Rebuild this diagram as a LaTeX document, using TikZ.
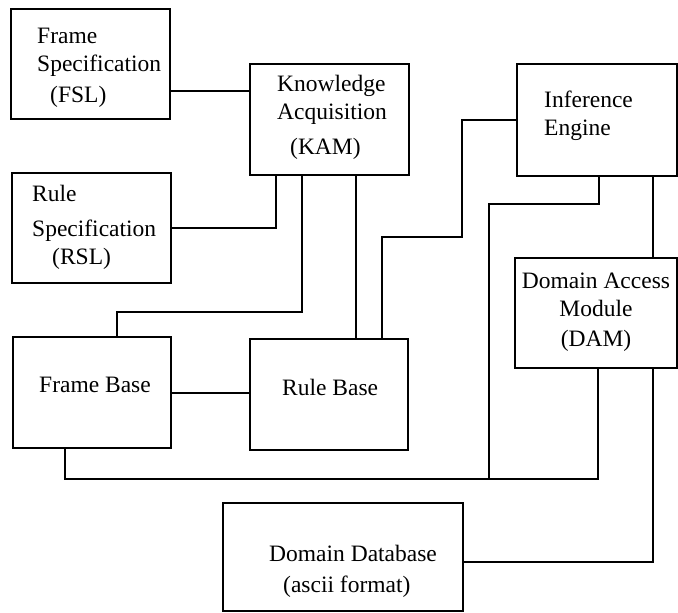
\documentclass[tikz,border=0pt]{standalone}
\usepackage{fontspec}
\setmainfont{Liberation Serif}
\usetikzlibrary{positioning}

\begin{document}
\begin{tikzpicture}[x=1pt,y=-1pt,
    box/.style={draw=black,line width=1.6pt,rectangle,inner sep=0pt},
    lbl/.style={anchor=north west,inner sep=0pt,align=left,font=\fontsize{23.5}{28}\selectfont},
    link/.style={draw=black,line width=1.6pt}]
    \useasboundingbox (0,0) rectangle (678,613);

    % modules
    \node (fsl) [box,minimum width=159pt,minimum height=110pt] at (90.5,64) {};
    \node (kam) [box,minimum width=159pt,minimum height=111pt] at (329.5,119.5) {};
    \node (ie)  [box,minimum width=160pt,minimum height=112pt] at (597,120) {};
    \node (rsl) [box,minimum width=159pt,minimum height=110pt] at (91.5,228) {};
    \node (dam) [box,minimum width=162pt,minimum height=110pt] at (596,313) {};
    \node (fb)  [box,minimum width=158pt,minimum height=111pt] at (92,392.5) {};
    \node (rb)  [box,minimum width=158pt,minimum height=111pt] at (329,394.5) {};
    \node (ddb) [box,minimum width=240pt,minimum height=108pt] at (343,557) {};

    % texts
    \node (fsl-txt) [lbl] at (37,28) {Frame\\Specification\\[3pt]\hspace{13pt}(FSL)};
    \node (kam-txt) [lbl] at (277,75) {Knowledge\\Acquisition\\[7pt]\hspace{13pt}(KAM)};
    \node (ie-txt)  [lbl] at (544,91) {Inference\\Engine};
    \node (rsl-txt) [lbl] at (32,185) {Rule\\[7pt]Specification\\\hspace{20pt}(RSL)};
    \node (dam-txt) [lbl,anchor=north,align=center] at (596,273) {Domain Access\\Module\\[2pt](DAM)};
    \node (fb-txt)  [lbl] at (39,377) {Frame Base};
    \node (rb-txt)  [lbl] at (282,379) {Rule Base};
    \node (ddb-txt) [lbl] at (269,545) {Domain Database\\[3pt]\hspace{14pt}(ascii format)};

    \coordinate (tee) at (489,478);

    % connections
    \draw[link] ([yshift=-27pt]fsl.east) -- ([yshift=-27pt]fsl.east -| kam.west);
    \draw[link] (rsl.east) -| ([xshift=-53.5pt]kam.south);
    \draw[link] ([xshift=-27.5pt]kam.south) -- ++(0,136) -| ([xshift=25pt]fb.north);
    \draw[link] ([xshift=26.5pt]kam.south) -- ([xshift=26.5pt]kam.south |- rb.north);
    \draw[link] (ie.west) -- ++(-54,0) -- ++(0,117) -| ([xshift=53pt]rb.north);
    \draw[link] ([xshift=2pt]ie.south) -- ++(0,27) -| (tee);
    \draw[link] ([xshift=56pt]ie.south) -- ([xshift=56pt]ie.south |- dam.north);
    \draw[link] ([xshift=-27pt]fb.south) -- ++(0,30) -| ([xshift=2pt]dam.south);
    \draw[link] ([xshift=57pt]dam.south) |- ([yshift=-5pt]ddb.east);
    \draw[link] ([yshift=-0.5pt]fb.east) -- ([yshift=-0.5pt]fb.east -| rb.west);
  \end{tikzpicture}
\end{document}
